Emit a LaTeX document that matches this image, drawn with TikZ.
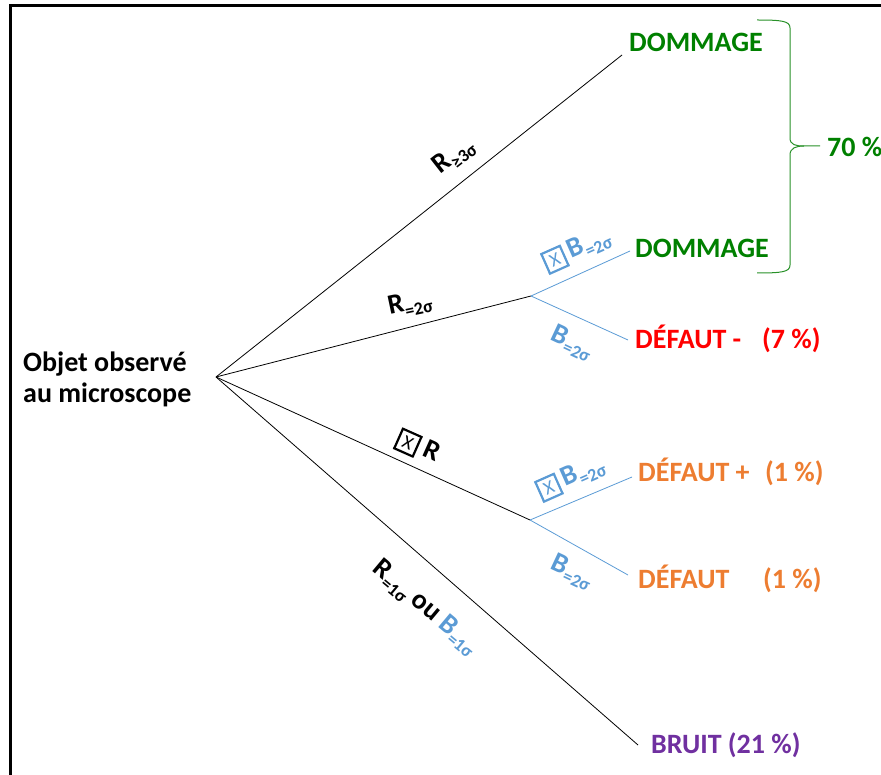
\documentclass[tikz,border=0pt]{standalone}
\usepackage{fontspec}
\setmainfont{Carlito}
\definecolor{dgreen}{RGB}{0,128,0}
\definecolor{bgreen}{RGB}{40,145,40}
\definecolor{dred}{RGB}{255,0,0}
\definecolor{dorange}{RGB}{237,125,49}
\definecolor{dpurple}{RGB}{112,48,160}
\definecolor{dblue}{RGB}{91,155,213}
\newcommand\subt[1]{\raisebox{-6pt}{\fontsize{18}{18}\selectfont #1}}
\newcommand\xbox{{\fboxrule=2.2pt\fboxsep=3.5pt\fbox{\fontsize{19}{19}\selectfont\mdseries\makebox[11pt]{X}}}}
\tikzset{
  big/.style={font=\fontsize{28}{31}\selectfont\bfseries, inner sep=0pt, anchor=base west},
  lab/.style={font=\fontsize{28}{28}\selectfont\bfseries, inner sep=0pt},
  tline/.style={line width=0.8pt},
  bline/.style={dblue, line width=0.8pt}
}
\begin{document}
\begin{tikzpicture}[x=1pt,y=-1pt]
\useasboundingbox (0,0) rectangle (881,775);
% frame
\draw[line width=3pt] (10.5,776) -- (10.5,5.5) -- (882,5.5);
% coordinates
\coordinate (root) at (216,377);
\coordinate (e1) at (622,55);
\coordinate (j1) at (531,296);
\coordinate (j2) at (530,520);
\coordinate (e4) at (638,745);
\coordinate (b1u) at (630,251);
\coordinate (b1d) at (628,340);
\coordinate (b2u) at (632,477);
\coordinate (b2d) at (628,575);
% end texts
\node[big, dgreen] (d1) at (629,52) {DOMMAGE};
\node[big, dgreen] (d2) at (635,258) {DOMMAGE};
\node[big, dred] (f1) at (635,349) {DÉFAUT -};
\node[big, dred] (p1) at (762,349) {(7 \%)};
\node[big, dorange] (f2) at (638,482) {DÉFAUT +};
\node[big, dorange] (p2) at (765,482) {(1 \%)};
\node[big, dorange] (f3) at (638,588) {DÉFAUT};
\node[big, dorange] (p3) at (763,588) {(1 \%)};
\node[big, dpurple] (br) at (651,753) {BRUIT (21 \%)};
\node[big, dgreen] (pc) at (827,157) {70 \%};
\node[big] (obj1) at (23,372) {Objet observé};
\node[big] (obj2) at (23,403) {au microscope};
% connectors
\draw[tline] (root) -- (e1);
\draw[tline] (root) -- (j1);
\draw[tline] (root) -- (j2);
\draw[tline] (root) -- (e4);
\draw[bline] (j1) -- (b1u);
\draw[bline] (j1) -- (b1d);
\draw[bline] (j2) -- (b2u);
\draw[bline] (j2) -- (b2d);
% brace
\draw[bgreen, line width=1pt]
  (757,20) .. controls (782,20) and (790,21) .. (790,28) -- (790,138)
  .. controls (790,145) and (796,146) .. (804,146) -- (820,146);
\draw[bgreen, line width=1pt]
  (804,146) .. controls (796,146) and (790,148) .. (790,155) -- (790,265)
  .. controls (790,272) and (782,273) .. (757,273);
% labels
\node[lab, rotate=38] (l1) at (454,156) {R\subt{≥3σ}};
\node[lab, rotate=12] (l2) at (410,304) {R\subt{=2σ}};
\node[lab, rotate=24, dblue] (l3) at (577,250) {\xbox\,B\subt{=2σ}};
\node[lab, rotate=-25, dblue] (l4) at (572,343) {B\subt{=2σ}};
\node[lab, rotate=-24] (l5) at (418,447) {\xbox{} R};
\node[lab, rotate=24, dblue] (l6) at (571,478) {\xbox\,B\subt{=2σ}};
\node[lab, rotate=-25, dblue] (l7) at (572,572) {B\subt{=2σ}};
\node[lab, rotate=-40] (l8) at (425,608) {R\subt{=1σ} ou \textcolor{dblue}{B\subt{=1σ}}};
\end{tikzpicture}
\end{document}
